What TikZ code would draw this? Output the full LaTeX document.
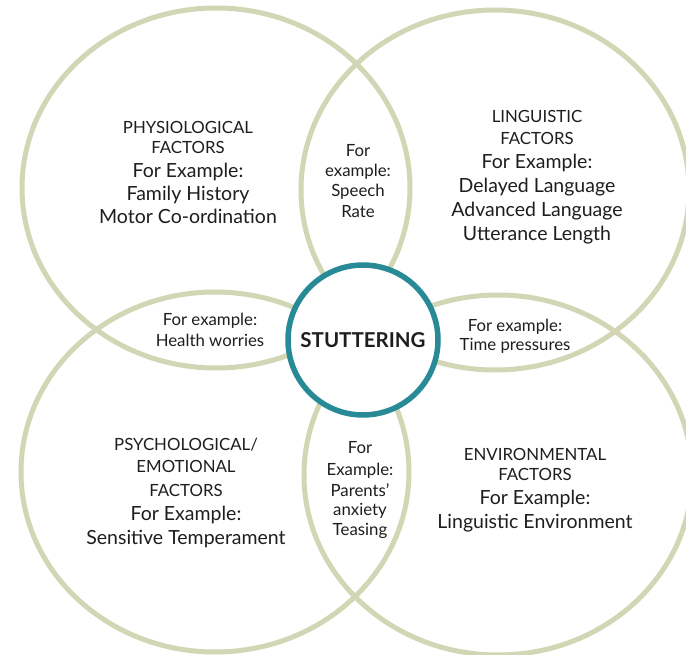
\documentclass[tikz,border=0pt]{standalone}
\usepackage{fontspec}
\setmainfont{Lato}
\usetikzlibrary{shapes.geometric}
\definecolor{sage}{RGB}{210,214,180}
\definecolor{hubteal}{RGB}{40,138,150}
\definecolor{ink}{RGB}{30,30,30}
\begin{document}
\begin{tikzpicture}[x=1pt,y=-1pt,
  ring/.style={draw=sage,line width=5pt,ellipse,minimum width=388pt,minimum height=360pt,inner sep=0pt},
  hub/.style={draw=hubteal,line width=5.5pt,fill=white,circle,minimum size=150pt,inner sep=0pt,
    font=\fontsize{20.5}{24}\selectfont\bfseries,text=ink},
  capl/.style={anchor=base,font=\fontsize{16.8}{20}\selectfont,text=ink,inner sep=0pt},
  bigl/.style={anchor=base,font=\fontsize{19.5}{23}\selectfont,text=ink,inner sep=0pt},
  smal/.style={anchor=base,font=\fontsize{16.8}{20}\selectfont,text=ink,inner sep=0pt}]
\useasboundingbox (0,0) rectangle (686,655);
\fill[white] (0,0) rectangle (686,655);
% four overlapping rings
\node[ring] (tl) at (216,188) {};
\node[ring] (tr) at (495,190) {};
\node[ring] (bl) at (215,472) {};
\node[ring] (br) at (498,475) {};
% central hub
\node[hub] (hub) at (363,340) {STUTTERING};
% physiological
\node[capl] (p1) at (188,134) {PHYSIOLOGICAL};
\node[capl] (p2) at (188,154) {FACTORS};
\node[bigl] (p3) at (188,178) {For Example:};
\node[bigl] (p4) at (188,201) {Family History};
\node[bigl] (p5) at (188,224) {Motor Co-ordination};
% speech rate
\node[smal] (s1) at (358,157) {For};
\node[smal] (s2) at (358,177) {example:};
\node[smal] (s3) at (358,197) {Speech};
\node[smal] (s4) at (358,218) {Rate};
% linguistic
\node[capl] (l1) at (537,123) {LINGUISTIC};
\node[capl] (l2) at (537,145) {FACTORS};
\node[bigl] (l3) at (537,169) {For Example:};
\node[bigl] (l4) at (537,193) {Delayed Language};
\node[bigl] (l5) at (537,217) {Advanced Language};
\node[bigl] (l6) at (537,241) {Utterance Length};
% health
\node[smal] (h1) at (210,326) {For example:};
\node[smal] (h2) at (210,346) {Health worries};
% time
\node[smal] (t1) at (515,332) {For example:};
\node[smal] (t2) at (515,351) {Time pressures};
% psychological
\node[capl] (y1) at (186,450) {PSYCHOLOGICAL/};
\node[capl] (y2) at (186,472) {EMOTIONAL};
\node[capl] (y3) at (186,496) {FACTORS};
\node[bigl] (y4) at (186,520) {For Example:};
\node[bigl] (y5) at (186,544) {Sensitive Temperament};
% parents
\node[smal] (a1) at (360,453) {For};
\node[smal] (a2) at (360,475) {Example:};
\node[smal] (a3) at (360,496) {Parents’};
\node[smal] (a4) at (360,515) {anxiety};
\node[smal] (a5) at (360,535) {Teasing};
% environmental
\node[capl] (e1) at (535,460) {ENVIRONMENTAL};
\node[capl] (e2) at (535,480) {FACTORS};
\node[bigl] (e3) at (535,504) {For Example:};
\node[bigl] (e4) at (535,528) {Linguistic Environment};
\end{tikzpicture}
\end{document}
